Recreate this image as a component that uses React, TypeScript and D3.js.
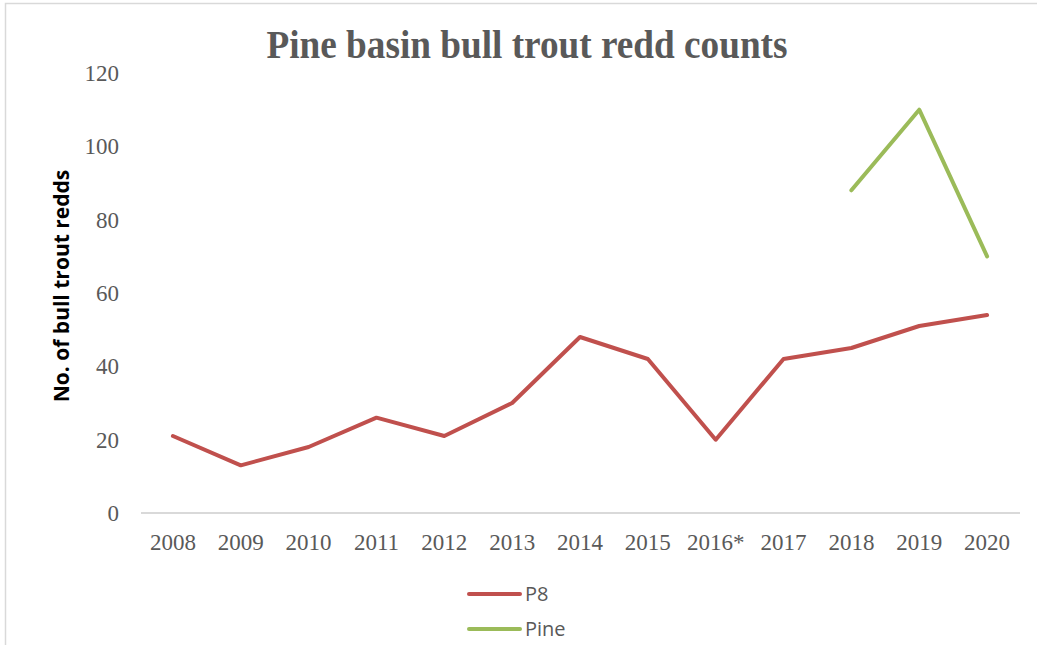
import React from "react";
import * as d3 from "d3";

const years = ["2008", "2009", "2010", "2011", "2012", "2013", "2014", "2015", "2016*", "2017", "2018", "2019", "2020"];
const p8Values: (number | null)[] = [21, 13, 18, 26, 21, 30, 48, 42, 20, 42, 45, 51, 54];
const pineValues: (number | null)[] = [null, null, null, null, null, null, null, null, null, null, 88, 110, 70];
const yTicks = [0, 20, 40, 60, 80, 100, 120];

const seriesList = [
  { name: "P8", values: p8Values, color: "#C0504D" },
  { name: "Pine", values: pineValues, color: "#9BBB59" },
];

const W = 1037;
const H = 645;
const serif = "'Liberation Serif', 'Times New Roman', serif";
const sans = "'Open Sans', 'Liberation Sans', Arial, sans-serif";

export default function App() {
  const x = d3.scaleBand<string>().domain(years).range([139, 1021]);
  const y = d3.scaleLinear().domain([0, 120]).range([513, 73]);
  const cx = (k: string) => (x(k) ?? 0) + x.bandwidth() / 2;

  const line = d3
    .line<number | null>()
    .defined((d) => d !== null)
    .x((_, i) => cx(years[i]))
    .y((d) => y(d as number));

  return (
    <svg
      width={W}
      height={H}
      style={{ position: "absolute", left: 0, top: 0, background: "#fff" }}
    >
      <rect x={5.5} y={3.5} width={W + 20} height={H + 20} fill="#fff" stroke="#d9d9d9" strokeWidth={1.5} />

      <text
        x={527}
        y={58}
        textAnchor="middle"
        fontFamily={serif}
        fontWeight="bold"
        fontSize={39}
        fill="#595959"
        textLength={521}
        lengthAdjust="spacingAndGlyphs"
      >
        Pine basin bull trout redd counts
      </text>

      {yTicks.map((t) => (
        <text
          key={t}
          x={119}
          y={y(t)}
          dy="0.35em"
          textAnchor="end"
          fontFamily={serif}
          fontSize={23}
          fill="#595959"
        >
          {t}
        </text>
      ))}

      <line x1={141} x2={1020} y1={y(0)} y2={y(0)} stroke="#d9d9d9" strokeWidth={2} />

      {years.map((yr) => (
        <text
          key={yr}
          x={cx(yr)}
          y={550}
          textAnchor="middle"
          fontFamily={serif}
          fontSize={23}
          fill="#595959"
        >
          {yr}
        </text>
      ))}

      <text
        transform={`translate(69, 286) rotate(-90)`}
        textAnchor="middle"
        fontFamily={sans}
        fontWeight="bold"
        fontSize={21}
        fill="#000"
      >
        No. of bull trout redds
      </text>

      {seriesList.map((s) => (
        <path
          key={s.name}
          d={line(s.values) ?? ""}
          fill="none"
          stroke={s.color}
          strokeWidth={4}
          strokeLinejoin="round"
          strokeLinecap="round"
        />
      ))}

      {seriesList.map((s, i) => (
        <g key={s.name} transform={`translate(0, ${594 + i * 35})`}>
          <line x1={469} x2={520} y1={0} y2={0} stroke={s.color} strokeWidth={4} strokeLinecap="round" />
          <text x={525} y={0} dy="0.35em" fontFamily={sans} fontSize={20} fill="#595959">
            {s.name}
          </text>
        </g>
      ))}
    </svg>
  );
}
